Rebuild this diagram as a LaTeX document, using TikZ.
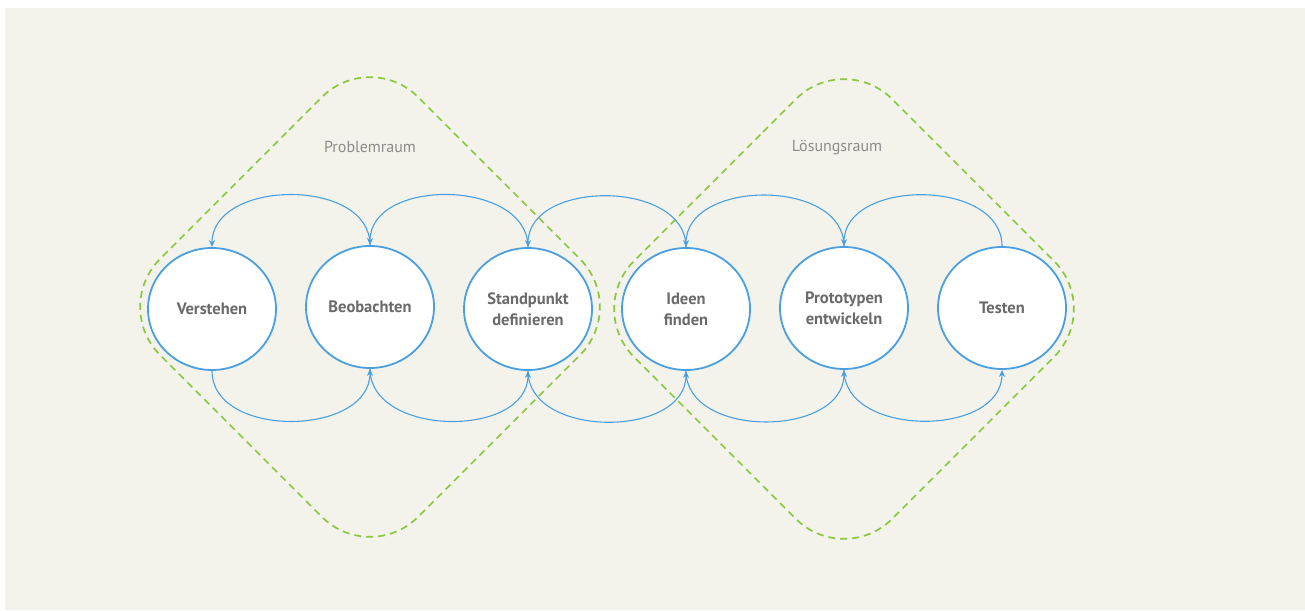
\documentclass[tikz,border=0pt]{standalone}
\usepackage{fontspec}
\setmainfont{PT Sans}
\usetikzlibrary{shapes.geometric,arrows.meta}
\definecolor{bgc}{HTML}{F3F3EB}
\definecolor{cblue}{HTML}{4A9FE0}
\definecolor{dgreen}{HTML}{8CC63F}
\definecolor{tgray}{HTML}{6A6A6A}
\definecolor{lgray}{HTML}{8C8C8C}
\begin{document}
\begin{tikzpicture}[x=1pt,y=1pt,
  stage/.style={ellipse, draw=cblue, line width=1.8pt, fill=white,
    minimum width=128pt, minimum height=122pt, inner sep=0pt, align=center,
    font=\fontsize{16.5}{21}\selectfont\bfseries, text=tgray},
  cyc/.style={draw=cblue, line width=1.1pt, -{Stealth[length=7pt,width=6pt]}, looseness=1.1},
  zone/.style={draw=dgreen, line width=1.7pt, dash pattern=on 7pt off 5pt, rounded corners=68pt},
  zonelabel/.style={font=\fontsize{16}{18}\selectfont, text=lgray}]
\useasboundingbox (0,0) rectangle (1305,610);
\fill[white] (0,0) rectangle (1305,610);
\fill[bgc] (5,0) rectangle (1305,602);

% problem / solution spaces
\draw[zone] (241,432) -- (370,561) -- (628,303) -- (370,45) -- (112,303) -- cycle;
\draw[zone] (715,430) -- (844,559) -- (1102,301) -- (844,43) -- (586,301) -- cycle;
\node[zonelabel] (lp) at (370,463) {Problemraum};
\node[zonelabel] (ll) at (837,462) {Lösungsraum};

% stages
\node[stage] (v) at (212,301) {Verstehen};
\node[stage] (b) at (370,303) {Beobachten};
\node[stage] (s) at (528,301) {Standpunkt\\definieren};
\node[stage] (i) at (686,301) {Ideen\\finden};
\node[stage] (p) at (844,302) {Prototypen\\entwickeln};
\node[stage] (t) at (1002,302) {Testen};

% top arcs (right to left)
\draw[cyc] (b.north) to[out=90,in=90] (v.north);
\draw[cyc] (s.north) to[out=90,in=90] (b.north);
\draw[cyc] (i.north) to[out=90,in=90] (s.north);
\draw[cyc] (p.north) to[out=90,in=90] (i.north);
\draw[cyc] (t.north) to[out=90,in=90] (p.north);
% bottom arcs (left to right)
\draw[cyc] (v.south) to[out=-90,in=-90] (b.south);
\draw[cyc] (b.south) to[out=-90,in=-90] (s.south);
\draw[cyc] (s.south) to[out=-90,in=-90] (i.south);
\draw[cyc] (i.south) to[out=-90,in=-90] (p.south);
\draw[cyc] (p.south) to[out=-90,in=-90] (t.south);
\end{tikzpicture}
\end{document}
